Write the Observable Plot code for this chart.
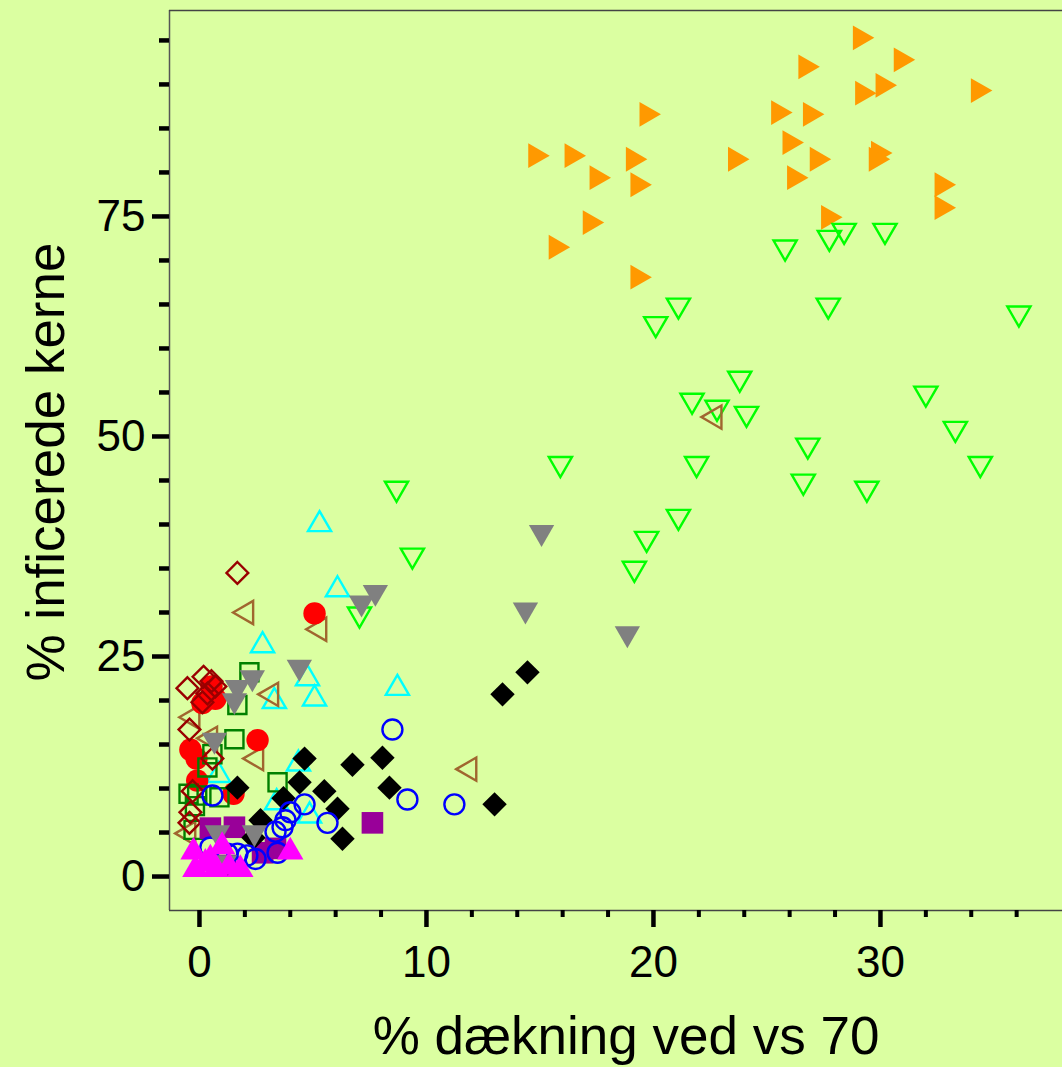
<!DOCTYPE html>
<html>
<head>
<meta charset="utf-8">
<script src="https://cdn.jsdelivr.net/npm/d3@7"></script>
<script src="https://cdn.jsdelivr.net/npm/@observablehq/plot@0.6"></script>
<style>
  html, body { margin: 0; padding: 0; background: #dbffa1; }
  #chart svg { display: block; }
</style>
</head>
<body>
<div id="chart"></div>
<script>
// ---- Data ----
const xTitle = "% dækning ved vs 70";
const yTitle = "% inficerede kerne";
const xMajorTicks = [0, 10, 20, 30];
const xMinorTicks = [2, 4, 6, 8, 12, 14, 16, 18, 22, 24, 26, 28, 32, 34, 36];
const yMajorTicks = [0, 25, 50, 75];
const yMinorTicks = [5, 10, 15, 20, 30, 35, 40, 45, 55, 60, 65, 70, 80, 85, 90, 95];
const xDomain = [-1.32, 38.02];
const yDomain = [-3.86, 98.4];

const orangeX = [29.1, 30.9, 26.7, 29.2, 30.1, 34.3, 19.7, 25.5, 26.9, 26.0, 14.8, 16.4, 19.1, 23.6, 27.2, 29.9, 29.8, 17.5, 19.3, 26.2, 32.7, 32.7, 17.2, 27.7, 15.7, 19.3];
const orangeY = [95.3, 92.8, 92.0, 89.0, 89.9, 89.3, 86.6, 86.8, 86.6, 83.4, 81.9, 81.9, 81.5, 81.5, 81.5, 82.2, 81.5, 79.4, 78.6, 79.4, 78.6, 76.0, 74.3, 74.9, 71.5, 68.1];

const limeX = [8.68, 9.38, 7.05, 15.9, 19.16, 19.7, 21.1, 20.1, 21.1, 21.7, 22.8, 23.8, 24.1, 21.9, 26.8, 26.6, 29.4, 32.0, 33.3, 34.4, 25.8, 27.75, 28.4, 30.2, 27.7, 36.1];
const limeY = [44.1, 36.5, 29.8, 46.9, 35.0, 38.4, 40.9, 62.8, 64.9, 54.1, 53.3, 56.6, 52.6, 46.9, 49.0, 44.9, 44.1, 54.9, 50.9, 46.9, 71.5, 72.6, 73.4, 73.4, 64.9, 64.0];

const grayX = [15.07, 14.36, 18.85, 7.75, 7.14, 4.4, 2.33, 1.67, 1.54, 0.66, 0.79, 2.42, 1.1];
const grayY = [39.1, 30.3, 27.6, 32.3, 31.1, 23.8, 22.6, 21.5, 20.0, 15.5, 5.0, 5.0, 1.6];

const blackX = [14.45, 13.35, 13.0, 8.06, 6.74, 8.37, 4.63, 4.41, 5.5, 6.08, 6.3, 3.7, 2.69, 1.67, 2.38];
const blackY = [23.2, 20.7, 8.2, 13.5, 12.7, 10.1, 13.4, 10.7, 9.7, 7.7, 4.3, 8.9, 6.4, 10.1, 4.4];

const blueX = [8.5, 9.16, 11.23, 5.64, 4.63, 4.0, 3.79, 3.66, 3.35, 3.44, 2.47, 2.11, 1.67, 1.23, 0.48, 0.57];
const blueY = [16.7, 8.75, 8.2, 6.1, 8.2, 7.3, 6.4, 5.6, 5.1, 2.7, 2.0, 2.4, 2.6, 2.6, 3.3, 9.2];

const cyanX = [5.29, 6.08, 2.78, 3.3, 4.76, 5.07, 8.72, 4.36, 3.4, 4.85, 0.84];
const cyanY = [40.0, 32.6, 26.25, 19.9, 22.5, 20.2, 21.4, 12.8, 8.4, 6.9, 11.5];

const brownX = [2.07, 5.29, 3.17, 11.9, 22.7, 2.51, -0.3, 0.48, -0.48];
const brownY = [30.0, 28.1, 20.7, 12.2, 52.2, 13.4, 18.1, 15.7, 4.9];

const darkRedX = [1.67, -0.53, 0.18, 0.53, 0.7, 0.35, 0.13, -0.44, 0.57, -0.3, -0.4, -0.44];
const darkRedY = [34.5, 21.4, 22.7, 22.2, 21.6, 20.8, 19.8, 16.7, 13.4, 9.7, 7.3, 6.1];

const redX = [5.07, 2.56, 0.7, 0.53, 0.13, -0.4, -0.13, -0.1, 1.5];
const redY = [29.9, 15.5, 20.2, 21.6, 19.7, 14.4, 13.4, 10.9, 9.4];

const darkGreenX = [2.2, 1.67, 1.54, 0.57, 0.35, 3.44, 0.88, -0.48, -0.1, -0.2, -0.26];
const darkGreenY = [23.2, 19.5, 15.6, 13.9, 12.4, 10.7, 9.0, 9.4, 9.2, 8.0, 5.3];

const purpleX = [7.62, 0.48, 1.54, 3.35, 1.15, 2.78];
const purpleY = [6.1, 5.5, 5.6, 3.2, 1.25, 2.7];

const magentaX = [-0.26, 0.26, -0.18, 1.0, 0.7, 1.8, 4.0, 0.48, 1.3];
const magentaY = [2.8, 1.5, 0.8, 3.4, 0.8, 0.8, 2.8, 2.0, 1.1];

// ---- Series styles (drawing order bottom -> top) ----
const series = [
  {x: orangeX,    y: orangeY,    symbol: "triangle", rotate: 90,  fill: "#ff9900", stroke: "none",    r: 9.2},
  {x: limeX,      y: limeY,      symbol: "triangle", rotate: 180, fill: "none",    stroke: "#00ff00", r: 8.6},
  {x: cyanX,      y: cyanY,      symbol: "triangle", rotate: 0,   fill: "none",    stroke: "#00ffff", r: 8.6},
  {x: brownX,     y: brownY,     symbol: "triangle", rotate: 270, fill: "none",    stroke: "#a0662f", r: 8.6},
  {x: redX,       y: redY,       symbol: "circle",   rotate: 0,   fill: "#ff0000", stroke: "none",    r: 11.2},
  {x: darkGreenX, y: darkGreenY, symbol: "square",   rotate: 0,   fill: "none",    stroke: "#008000", r: 10.2},
  {x: darkRedX,   y: darkRedY,   symbol: "diamond2", rotate: 0,   fill: "none",    stroke: "#990000", r: 9.8},
  {x: purpleX,    y: purpleY,    symbol: "square",   rotate: 0,   fill: "#990099", stroke: "none",    r: 12.2},
  {x: blackX,     y: blackY,     symbol: "diamond2", rotate: 0,   fill: "#000000", stroke: "none",    r: 11.0},
  {x: blueX,      y: blueY,      symbol: "circle",   rotate: 0,   fill: "none",    stroke: "#0000ff", r: 10.0},
  {x: grayX,      y: grayY,      symbol: "triangle", rotate: 180, fill: "#808080", stroke: "none",    r: 9.4},
  {x: magentaX,   y: magentaY,   symbol: "triangle", rotate: 0,   fill: "#ff00ff", stroke: "none",    r: 9.8}
];

const dotMarks = series.map(s => {
  const data = s.x.map((v, i) => ({x: v, y: s.y[i]}));
  return Plot.dot(data, {
    x: "x", y: "y",
    symbol: () => s.symbol,
    rotate: s.rotate,
    fill: s.fill,
    stroke: s.stroke,
    strokeWidth: s.stroke === "none" ? 0 : 2.4,
    r: s.r
  });
});

const W = 1062, H = 1067;
const chart = Plot.plot({
  width: W,
  height: H,
  marginLeft: 169,
  marginTop: 10,
  marginRight: 0,
  marginBottom: 157,
  style: {background: "#dbffa1", fontFamily: "'Liberation Sans', Arial, sans-serif", fontSize: "44px", color: "#000", overflow: "hidden"},
  x: {domain: xDomain},
  y: {domain: yDomain},
  marks: [
    Plot.ruleX([xDomain[0]], {stroke: "#555", strokeWidth: 1.5}),
    Plot.ruleY(yDomain, {stroke: "#444", strokeWidth: 1.5}),
    ...dotMarks,
    Plot.axisX(xMajorTicks, {tickSize: 17, strokeWidth: 4.5, tickPadding: 18, label: null, fontSize: 44}),
    Plot.axisX(xMinorTicks, {tickSize: 7, strokeWidth: 4, tickFormat: () => "", label: null}),
    Plot.axisY(yMajorTicks, {tickSize: 17, strokeWidth: 4.5, tickPadding: 7, label: null, fontSize: 44}),
    Plot.axisY(yMinorTicks, {tickSize: 10, strokeWidth: 4.5, tickFormat: () => "", label: null})
  ]
});

const svg = d3.select(chart);
svg.append("text")
  .attr("x", 626).attr("y", 1054)
  .attr("text-anchor", "middle")
  .attr("font-size", 53)
  .attr("fill", "#000")
  .text(xTitle);
svg.append("text")
  .attr("transform", "translate(64,462) rotate(-90)")
  .attr("text-anchor", "middle")
  .attr("font-size", 53)
  .attr("fill", "#000")
  .text(yTitle);

document.getElementById("chart").appendChild(chart);
</script>
</body>
</html>
